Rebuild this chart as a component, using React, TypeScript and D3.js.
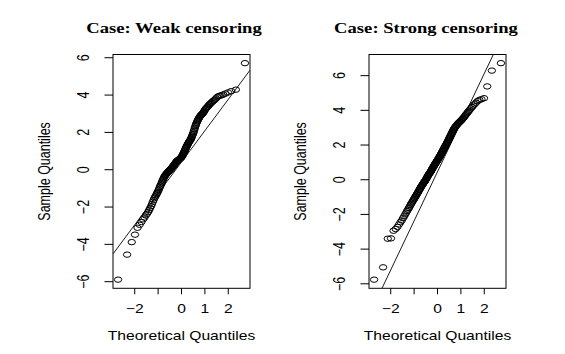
import React from "react";
import * as d3 from "d3";

// ---- Data (sorted sample quantiles, n = 150) ----
const weakSample: number[] = [
  -5.89, -4.55, -3.88, -3.48, -3.11, -2.95, -2.80, -2.66, -2.56, -2.45,
  -2.36, -2.27, -2.16, -2.05, -1.95, -1.84, -1.72, -1.62, -1.52, -1.45,
  -1.38, -1.31, -1.24, -1.17, -1.09, -1.01, -0.93, -0.86, -0.79, -0.72,
  -0.64, -0.57, -0.51, -0.45, -0.39, -0.34, -0.30, -0.27, -0.24, -0.20,
  -0.17, -0.14, -0.12, -0.09, -0.06, -0.04, -0.02, 0.01, 0.04, 0.06,
  0.09, 0.12, 0.14, 0.17, 0.20, 0.23, 0.26, 0.29, 0.32, 0.35,
  0.38, 0.41, 0.44, 0.46, 0.48, 0.50, 0.51, 0.53, 0.54, 0.56,
  0.58, 0.60, 0.62, 0.64, 0.66, 0.68, 0.72, 0.76, 0.80, 0.85,
  0.89, 0.93, 0.98, 1.03, 1.08, 1.13, 1.18, 1.22, 1.27, 1.31,
  1.35, 1.39, 1.44, 1.47, 1.50, 1.54, 1.57, 1.61, 1.65, 1.70,
  1.76, 1.82, 1.88, 1.94, 2.01, 2.09, 2.17, 2.25, 2.33, 2.40,
  2.47, 2.53, 2.59, 2.65, 2.70, 2.75, 2.80, 2.84, 2.88, 2.92,
  2.95, 2.98, 3.01, 3.05, 3.10, 3.16, 3.22, 3.27, 3.31, 3.35,
  3.39, 3.44, 3.49, 3.53, 3.58, 3.62, 3.67, 3.71, 3.76, 3.82,
  3.89, 3.94, 3.97, 3.99, 4.03, 4.08, 4.14, 4.21, 4.29, 5.71,
];

const strongSample: number[] = [
  -5.76, -5.05, -3.40, -3.38, -2.94, -2.84, -2.72, -2.58, -2.45, -2.35,
  -2.22, -2.11, -2.00, -1.90, -1.80, -1.72, -1.63, -1.55, -1.47, -1.39,
  -1.32, -1.25, -1.18, -1.12, -1.06, -1.00, -0.94, -0.88, -0.83, -0.77,
  -0.71, -0.66, -0.60, -0.55, -0.50, -0.44, -0.39, -0.35, -0.31, -0.27,
  -0.22, -0.18, -0.14, -0.10, -0.07, -0.03, 0.01, 0.06, 0.10, 0.15,
  0.20, 0.24, 0.28, 0.31, 0.35, 0.38, 0.42, 0.46, 0.50, 0.54,
  0.58, 0.62, 0.66, 0.70, 0.74, 0.78, 0.82, 0.86, 0.89, 0.93,
  0.97, 1.00, 1.04, 1.07, 1.10, 1.14, 1.18, 1.22, 1.26, 1.30,
  1.34, 1.37, 1.41, 1.46, 1.50, 1.54, 1.58, 1.63, 1.67, 1.71,
  1.76, 1.80, 1.84, 1.89, 1.93, 1.97, 2.02, 2.06, 2.11, 2.16,
  2.21, 2.26, 2.31, 2.37, 2.42, 2.47, 2.52, 2.58, 2.63, 2.69,
  2.74, 2.80, 2.86, 2.91, 2.96, 3.00, 3.04, 3.08, 3.13, 3.16,
  3.20, 3.24, 3.27, 3.31, 3.34, 3.37, 3.41, 3.45, 3.50, 3.54,
  3.59, 3.65, 3.71, 3.77, 3.83, 3.90, 3.97, 4.04, 4.12, 4.19,
  4.27, 4.35, 4.44, 4.53, 4.60, 4.64, 4.70, 5.38, 6.29, 6.72,
];

const titles: string[] = ["Case: Weak censoring", "Case: Strong censoring"];
const refIntercepts: number[] = [0.41, 0.46];
const refSlopes: number[] = [1.68, 2.83];
const xTickValues: number[] = [-2, -1, 0, 1, 2];
const xTickLabels: string[] = ["\u22122", "", "0", "1", "2"];
const yTickValues: number[] = [-6, -4, -2, 0, 2, 4, 6];
const xAxisTitle = "Theoretical Quantiles";
const yAxisTitle = "Sample Quantiles";

// ---- Layout ----
const W = 565;
const H = 354;
const panels = [
  { left: 113, right: 250, top: 54.5, bottom: 288.3, titleX: 174 },
  { left: 369, right: 506, top: 54.5, bottom: 288.3, titleX: 426 },
];
const SX = 1.25; // horizontal stretch of the source image
const FS = 12.5;
const SANS = "'Liberation Sans', Arial, Helvetica, sans-serif";
const SERIF = "'Liberation Serif', 'Times New Roman', serif";

// inverse standard normal CDF (Acklam)
function qnorm(p: number): number {
  const a = [-3.969683028665376e1, 2.209460984245205e2, -2.759285104469687e2, 1.38357751867269e2, -3.066479806614716e1, 2.506628277459239];
  const b = [-5.447609879822406e1, 1.615858368580409e2, -1.556989798598866e2, 6.680131188771972e1, -1.328068155288572e1];
  const c = [-7.784894002430293e-3, -3.223964580411365e-1, -2.400758277161838, -2.549732539343734, 4.374664141464968, 2.938163982698783];
  const d = [7.784695709041462e-3, 3.224671290700398e-1, 2.445134137142996, 3.754408661907416];
  const plow = 0.02425;
  const phigh = 1 - plow;
  let q: number, r: number;
  if (p < plow) {
    q = Math.sqrt(-2 * Math.log(p));
    return (((((c[0] * q + c[1]) * q + c[2]) * q + c[3]) * q + c[4]) * q + c[5]) /
      ((((d[0] * q + d[1]) * q + d[2]) * q + d[3]) * q + 1);
  }
  if (p > phigh) {
    q = Math.sqrt(-2 * Math.log(1 - p));
    return -(((((c[0] * q + c[1]) * q + c[2]) * q + c[3]) * q + c[4]) * q + c[5]) /
      ((((d[0] * q + d[1]) * q + d[2]) * q + d[3]) * q + 1);
  }
  q = p - 0.5;
  r = q * q;
  return (((((a[0] * r + a[1]) * r + a[2]) * r + a[3]) * r + a[4]) * r + a[5]) * q /
    (((((b[0] * r + b[1]) * r + b[2]) * r + b[3]) * r + b[4]) * r + 1);
}

function extend(ext: [number, number]): [number, number] {
  const r = ext[1] - ext[0];
  return [ext[0] - 0.04 * r, ext[1] + 0.04 * r];
}

function Panel({ idx, sample }: { idx: number; sample: number[] }) {
  const p = panels[idx];
  const n = sample.length;
  const theo = sample.map((_, i) => qnorm((i + 1 - 0.5) / n));
  const x = d3.scaleLinear().domain(extend(d3.extent(theo) as [number, number])).range([p.left, p.right]);
  const y = d3.scaleLinear().domain(extend(d3.extent(sample) as [number, number])).range([p.bottom, p.top]);
  const [dx0, dx1] = x.domain();
  const a = refIntercepts[idx];
  const b = refSlopes[idx];
  const lineGen = d3.line<number>().x((v) => x(v)).y((v) => y(a + b * v));
  const clipId = `clip${idx}`;
  const midY = (p.top + p.bottom) / 2;
  const midX = (p.left + p.right) / 2;
  return (
    <g>
      <defs>
        <clipPath id={clipId}>
          <rect x={p.left} y={p.top} width={p.right - p.left} height={p.bottom - p.top} />
        </clipPath>
      </defs>
      <text
        transform={`translate(${p.titleX},33.3) scale(1.33,1)`}
        textAnchor="middle"
        fontFamily={SERIF}
        fontWeight="bold"
        fontSize={14}
        fill="#000"
      >
        {titles[idx]}
      </text>
      <rect x={p.left} y={p.top} width={p.right - p.left} height={p.bottom - p.top} fill="none" stroke="#000" strokeWidth={1} />
      {/* x ticks */}
      {xTickValues.map((v, i) => (
        <g key={`xt${i}`}>
          <line x1={x(v)} x2={x(v)} y1={p.bottom} y2={p.bottom + 6} stroke="#000" strokeWidth={1} />
          {xTickLabels[i] !== "" && (
            <text
              transform={`translate(${x(v)},${p.bottom + 25}) scale(${SX},1)`}
              textAnchor="middle"
              fontFamily={SANS}
              fontSize={FS}
              fill="#000"
            >
              {xTickLabels[i]}
            </text>
          )}
        </g>
      ))}
      {/* y ticks */}
      {yTickValues.map((v, i) => (
        <g key={`yt${i}`}>
          <line x1={p.left - 8.5} x2={p.left} y1={y(v)} y2={y(v)} stroke="#000" strokeWidth={1} />
          <text
            transform={`translate(${p.left - 24.5},${y(v)}) scale(${SX},1) rotate(-90)`}
            textAnchor="middle"
            fontFamily={SANS}
            fontSize={FS}
            fill="#000"
          >
            {v < 0 ? `\u2212${Math.abs(v)}` : `${v}`}
          </text>
        </g>
      ))}
      {/* axis titles */}
      <text
        transform={`translate(${midX},340) scale(${SX},1)`}
        textAnchor="middle"
        fontFamily={SANS}
        fontSize={FS}
        fill="#000"
      >
        {xAxisTitle}
      </text>
      <text
        transform={`translate(${p.left - 63.5},${midY}) scale(${SX},1) rotate(-90)`}
        textAnchor="middle"
        fontFamily={SANS}
        fontSize={FS}
        fill="#000"
      >
        {yAxisTitle}
      </text>
      {/* reference line */}
      <path d={lineGen([dx0, dx1]) || ""} fill="none" stroke="#000" strokeWidth={0.9} clipPath={`url(#${clipId})`} />
      {/* points */}
      {sample.map((v, i) => (
        <ellipse key={i} cx={x(theo[i])} cy={y(v)} rx={3.7} ry={2.7} fill="none" stroke="#000" strokeWidth={1} />
      ))}
    </g>
  );
}

export default function App() {
  return (
    <svg width={W} height={H} style={{ display: "block", position: "absolute", left: 0, top: 0, background: "#fff" }}>
      <rect x={0} y={0} width={W} height={H} fill="#fff" />
      <Panel idx={0} sample={weakSample} />
      <Panel idx={1} sample={strongSample} />
    </svg>
  );
}
